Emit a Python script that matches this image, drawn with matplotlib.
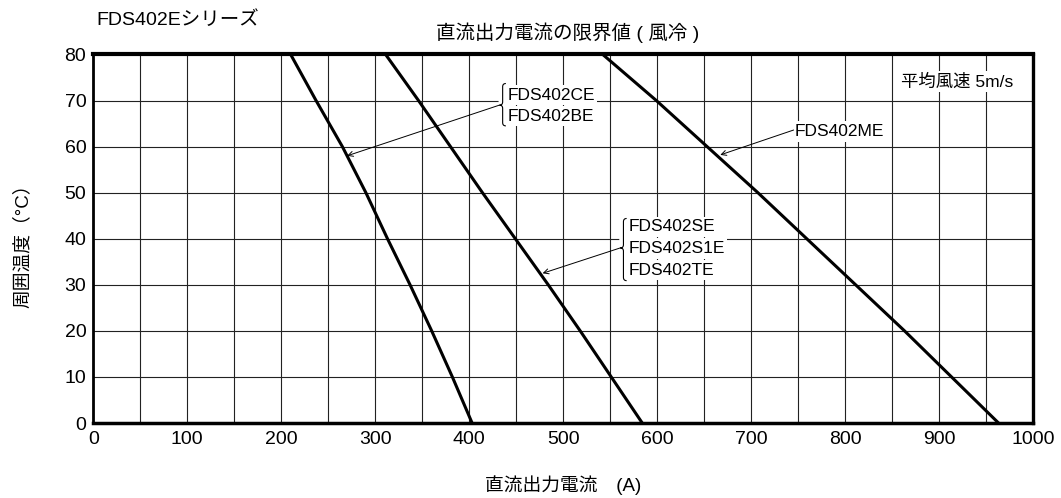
import numpy as np
import matplotlib
matplotlib.use("Agg")
import matplotlib.pyplot as plt
from matplotlib.path import Path
from matplotlib.patches import PathPatch

plt.rcParams['font.family'] = ['Liberation Sans', 'Noto Sans CJK JP', 'DejaVu Sans']

# ambient temperature (degC) at which each curve was read
temp = [80, 70, 60, 50, 40, 30, 20, 10, 0]
# DC output current limit (A)
cur_cebe = [210, 237, 265, 290, 313, 337, 360, 382, 403]
cur_se = [311, 346, 380, 414, 449, 484, 518, 551, 584]
cur_me = [542, 599, 653, 707, 759, 811, 863, 913, 963]

labels_cebe = ["FDS402CE", "FDS402BE"]
labels_se = ["FDS402SE", "FDS402S1E", "FDS402TE"]
label_me = "FDS402ME"

x_ticks = np.arange(0, 1001, 100)
y_ticks = np.arange(0, 81, 10)


def brace(ax, x, y0, y1, ym, w=3.4, h=0.7):
    # thin curly brace opening to the right, point to the left at ym
    verts = [(x + w, y1), (x, y1), (x, y1 - h), (x, ym + h),
             (x, ym), (x - w, ym), (x, ym), (x, ym - h),
             (x, y0 + h), (x, y0), (x + w, y0)]
    codes = [Path.MOVETO, Path.CURVE3, Path.CURVE3, Path.LINETO,
             Path.CURVE3, Path.CURVE3, Path.CURVE3, Path.CURVE3,
             Path.LINETO, Path.CURVE3, Path.CURVE3]
    p = Path(verts, codes)
    ax.add_patch(PathPatch(p, fill=False, ec='white', lw=6, zorder=4))
    ax.add_patch(PathPatch(p, fill=False, ec='black', lw=0.8, zorder=5))


fig = plt.figure(figsize=(10.61, 4.98), dpi=100)
ax = fig.add_axes([0.0879, 0.1506, 0.886, 0.740])

for c in (cur_cebe, cur_se, cur_me):
    ax.plot(c, temp, color='black', lw=2.2, zorder=3, solid_capstyle='butt',
            solid_joinstyle='round')

ax.set_xlim(0, 1000)
ax.set_ylim(0, 80)
ax.set_xticks(x_ticks)
ax.set_xticks(np.arange(0, 1001, 50), minor=True)
ax.set_yticks(y_ticks)
ax.grid(which='both', axis='x', color='#222222', lw=0.8, zorder=1)
ax.grid(which='major', axis='y', color='#222222', lw=0.8, zorder=1)
ax.set_axisbelow(True)
ax.tick_params(which='both', length=0, labelsize=14)
ax.tick_params(axis='x', pad=6)
ax.tick_params(axis='y', pad=5)

ax.spines['top'].set_linewidth(3.0)
ax.spines['bottom'].set_linewidth(2.5)
ax.spines['left'].set_linewidth(2.0)
ax.spines['right'].set_linewidth(2.4)

box = dict(boxstyle='square,pad=0.15', fc='white', ec='none')
arrow = dict(arrowstyle='->', lw=0.7, color='black', shrinkA=0, shrinkB=0,
             mutation_scale=9)

# CE / BE group
for lab, y in zip(labels_cebe, [71.2, 66.6]):
    ax.text(440.5, y, lab, fontsize=12.5, va='center', ha='left', bbox=box, zorder=4)
brace(ax, 435.5, 64.5, 73.7, 69.0)
ax.annotate("", xy=(270, 58.0), xytext=(432, 69.0), arrowprops=arrow, zorder=5)

# SE / S1E / TE group
for lab, y in zip(labels_se, [42.6, 37.9, 33.2]):
    ax.text(569, y, lab, fontsize=12.5, va='center', ha='left', bbox=box, zorder=4)
brace(ax, 564, 30.9, 44.4, 38.0)
ax.annotate("", xy=(478, 32.5), xytext=(560.5, 38.0), arrowprops=arrow, zorder=5)

# ME
ax.text(746, 63.3, label_me, fontsize=12.5, va='center', ha='left', bbox=box, zorder=4)
ax.annotate("", xy=(667, 58.2), xytext=(745, 63.6), arrowprops=arrow, zorder=5)

ax.text(859, 74.1, "平均風速 5m/s", fontsize=12.5, va='center', ha='left',
        bbox=box, zorder=4)

fig.text(0.0905, 0.96, "FDS402Eシリーズ", fontsize=14, va='center', ha='left')
fig.text(0.5353, 0.935, "直流出力電流の限界値 ( 風冷 )", fontsize=14,
         va='center', ha='center')
fig.text(0.0217, 0.516, "周囲温度（°C）", fontsize=13.5, rotation=90,
         va='center', ha='center')
fig.text(0.5306, 0.026, "直流出力電流　(A)", fontsize=13.5, va='center', ha='center')

fig.savefig("out.png", dpi=100)
